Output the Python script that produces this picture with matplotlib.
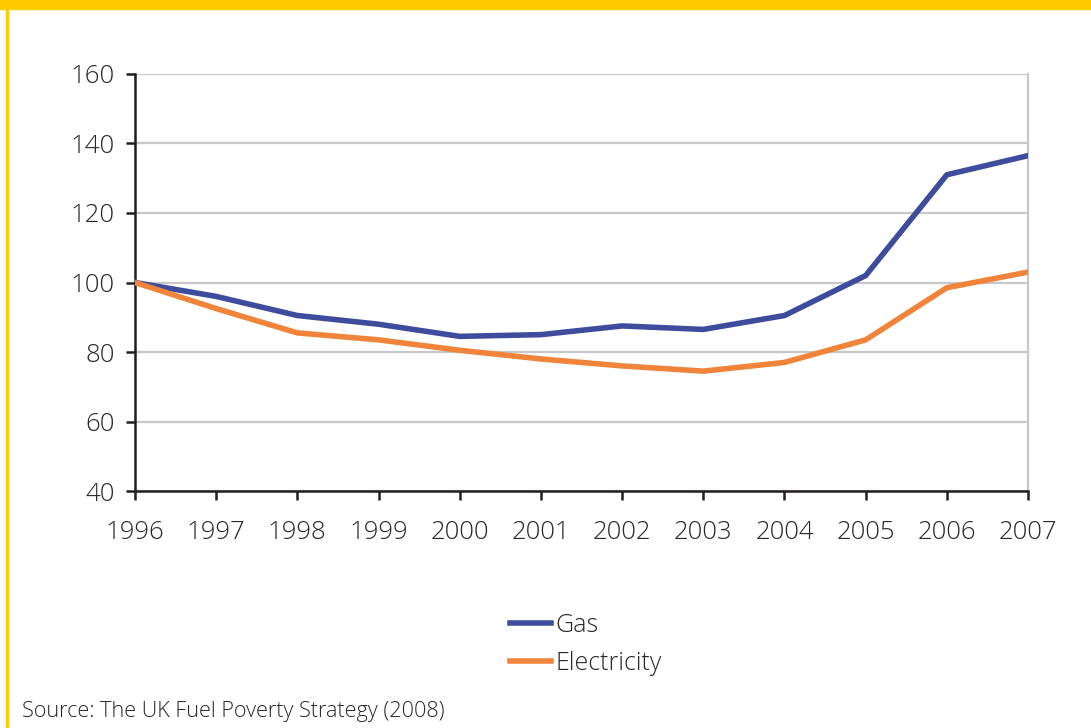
import matplotlib
matplotlib.use("Agg")
import matplotlib.pyplot as plt
from matplotlib.lines import Line2D
from matplotlib.patches import Rectangle

plt.rcParams['font.family'] = ['Open Sans', 'DejaVu Sans']
plt.rcParams['font.weight'] = 'light'

# index values, 1996 = 100
years = [1996, 1997, 1998, 1999, 2000, 2001, 2002, 2003, 2004, 2005, 2006, 2007]
gas = [100, 96, 90.5, 88, 84.5, 85, 87.5, 86.5, 90.5, 102, 131, 136.5]
electricity = [100, 92.5, 85.5, 83.5, 80.5, 78, 76, 74.5, 77, 83.5, 98.5, 103]
y_ticks = [40, 60, 80, 100, 120, 140, 160]

gas_col = '#3e4c9e'
elec_col = '#f0843a'
yellow = '#ffcc00'
txt_col = '#2b2627'
lw = 4.0

fig = plt.figure(figsize=(10.91, 7.28), dpi=100)
ax = fig.add_axes([0.1237, 0.3255, 0.8186, 0.5729])

ax.plot(years, gas, color=gas_col, lw=lw, solid_joinstyle='round', zorder=3)
ax.plot(years, electricity, color=elec_col, lw=lw, solid_joinstyle='round', zorder=3)

ax.set_xlim(1996, 2007)
ax.set_ylim(40, 160)
ax.set_xticks(years)
ax.set_yticks(y_ticks)
ax.grid(axis='y', color='#c9c7c7', lw=1.6, zorder=0)

for s in ['left', 'bottom']:
    ax.spines[s].set_color('#231f20')
    ax.spines[s].set_linewidth(1.8)
ax.spines['right'].set_color('#c9c7c7')
ax.spines['right'].set_linewidth(1.6)
ax.spines['top'].set_visible(False)

ax.tick_params(axis='both', direction='out', length=6.5, width=1.8, color='#231f20',
               labelsize=18.5, labelcolor=txt_col)
ax.tick_params(axis='y', pad=8)
ax.tick_params(axis='x', pad=14)

handles = [Line2D([], [], color=gas_col, lw=lw), Line2D([], [], color=elec_col, lw=lw)]
fig.legend(handles, ['Gas', 'Electricity'], loc='center left', bbox_to_anchor=(0.447, 0.115),
           frameon=False, fontsize=18, handlelength=1.65, handletextpad=0.17,
           labelspacing=0.5, labelcolor=txt_col)

fig.text(22 / 1091, 1 - 712 / 728, 'Source: The UK Fuel Poverty Strategy (2008)', fontsize=15.6,
         color=txt_col, ha='left', va='center')

# yellow frame: band along the top, thin line down the left
fig.patches.append(Rectangle((0, 1 - 9 / 728), 1, 9 / 728, transform=fig.transFigure,
                             color=yellow, zorder=5))
fig.patches.append(Rectangle((6 / 1091, 0), 2 / 1091, 1, transform=fig.transFigure,
                             color=yellow, zorder=5))

fig.savefig('out.png', dpi=100)
